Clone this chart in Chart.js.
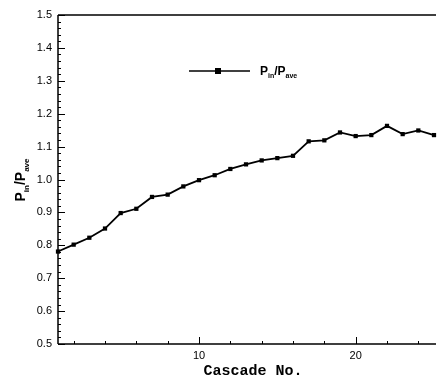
<!DOCTYPE html>
<html>
<head>
<meta charset="utf-8">
<script src="https://cdn.jsdelivr.net/npm/chart.js@4/dist/chart.umd.min.js"></script>
<style>
  html, body { margin: 0; padding: 0; background: #fff; }
  canvas { display: block; }
</style>
</head>
<body>
<canvas id="c" width="438" height="379"></canvas>
<script>
// dados
const cascadeNo = [1,2,3,4,5,6,7,8,9,10,11,12,13,14,15,16,17,18,19,20,21,22,23,24,25];
const pRatio = [0.781,0.802,0.823,0.851,0.898,0.911,0.947,0.954,0.979,0.998,
                1.013,1.032,1.046,1.058,1.065,1.072,1.116,1.119,1.143,1.132,
                1.135,1.163,1.138,1.149,1.135];
const xTickLabels = [10, 20];
const xRange = [1, 25];
const yRange = [0.5, 1.5];

const BLACK = "#000";
const SANS = "'Liberation Sans', Arial, sans-serif";

// texto com subscrito: parts = [[texto, ehSub], ...]
function drawSubText(ctx, parts, x, y, size, subSize) {
  let cx = x;
  for (const [t, sub] of parts) {
    ctx.font = "bold " + (sub ? subSize : size) + "px " + SANS;
    ctx.fillText(t, cx, sub ? y + size * 0.25 : y);
    cx += ctx.measureText(t).width;
  }
  return cx - x;
}
function measureSubText(ctx, parts, size, subSize) {
  let w = 0;
  for (const [t, sub] of parts) {
    ctx.font = "bold " + (sub ? subSize : size) + "px " + SANS;
    w += ctx.measureText(t).width;
  }
  return w;
}
const labelParts = [["P", false], ["in", true], ["/P", false], ["ave", true]];

const decorPlugin = {
  id: "decor",
  afterDraw(chart) {
    const ctx = chart.ctx;
    const a = chart.chartArea;
    const xs = chart.scales.x, ys = chart.scales.y;
    ctx.save();
    ctx.strokeStyle = BLACK;
    ctx.fillStyle = BLACK;
    ctx.lineWidth = 1.5;
    // moldura: esquerda, topo, base
    ctx.beginPath();
    ctx.moveTo(a.left, a.top); ctx.lineTo(a.right + 2, a.top);
    ctx.moveTo(a.left, a.top); ctx.lineTo(a.left, a.bottom);
    ctx.moveTo(a.left, a.bottom); ctx.lineTo(a.right + 2, a.bottom);
    ctx.stroke();

    // ticks para dentro
    ctx.lineWidth = 1;
    ctx.beginPath();
    for (let i = 0; i <= 50; i++) {
      const v = yRange[0] + i * 0.02;
      const py = Math.round(ys.getPixelForValue(v)) + 0.5;
      const len = i % 5 === 0 ? 7 : 3;
      ctx.moveTo(a.left, py); ctx.lineTo(a.left + len, py);
    }
    for (let v = 2; v <= 24; v += 2) {
      const px = Math.round(xs.getPixelForValue(v)) + 0.5;
      const len = v % 10 === 0 ? 7 : 3;
      ctx.moveTo(px, a.bottom); ctx.lineTo(px, a.bottom - len);
    }
    ctx.stroke();

    // titulo eixo x
    ctx.font = "bold 15px 'Liberation Mono', 'Courier New', monospace";
    ctx.textAlign = "center";
    ctx.textBaseline = "alphabetic";
    ctx.fillText("Cascade No.", 253, 375);

    // titulo eixo y (rotacionado)
    ctx.textAlign = "left";
    ctx.save();
    ctx.translate(25, 180);
    ctx.rotate(-Math.PI / 2);
    const w = measureSubText(ctx, labelParts, 14, 8);
    drawSubText(ctx, labelParts, -w / 2, 0, 14, 8);
    ctx.restore();

    // legenda
    ctx.lineWidth = 1.5;
    ctx.beginPath();
    ctx.moveTo(189, 71); ctx.lineTo(250, 71);
    ctx.stroke();
    ctx.fillRect(215, 68, 6, 6);
    drawSubText(ctx, labelParts, 260, 75, 12, 7);
    ctx.restore();
  }
};

new Chart(document.getElementById("c"), {
  type: "line",
  data: {
    datasets: [{
      label: "Pin/Pave",
      data: cascadeNo.map((x, i) => ({ x: x, y: pRatio[i] })),
      borderColor: BLACK,
      backgroundColor: BLACK,
      borderWidth: 1.8,
      pointStyle: "rect",
      pointRadius: 3,
      pointBorderWidth: 0,
      tension: 0,
      clip: false
    }]
  },
  options: {
    responsive: false,
    animation: false,
    events: [],
    layout: { padding: { top: 15, right: 0, left: 0, bottom: 0 } },
    plugins: { legend: { display: false }, tooltip: { enabled: false } },
    scales: {
      x: {
        type: "linear",
        min: xRange[0],
        max: xRange[1],
        afterFit(s) { s.height = 35; },
        afterBuildTicks(s) { s.ticks = xTickLabels.map(v => ({ value: v })); },
        grid: { display: false, drawTicks: false },
        border: { display: false },
        ticks: { color: BLACK, padding: 5, font: { family: SANS, size: 11 } }
      },
      y: {
        min: yRange[0],
        max: yRange[1],
        afterFit(s) { s.width = 58; },
        grid: { display: false, drawTicks: false },
        border: { display: false },
        ticks: { stepSize: 0.1, color: BLACK, padding: 6, font: { family: SANS, size: 11 } }
      }
    }
  },
  plugins: [decorPlugin]
});
</script>
</body>
</html>
